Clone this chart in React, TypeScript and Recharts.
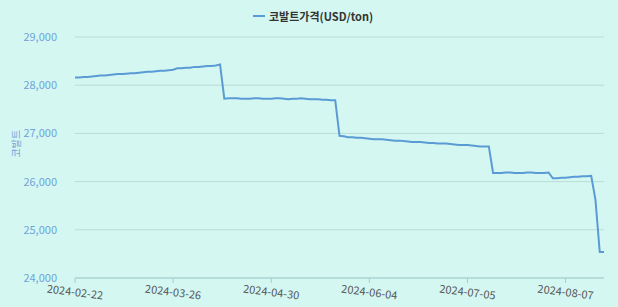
import { LineChart, Line, XAxis, YAxis, CartesianGrid } from 'recharts';

// LME business days, 2024-02-22 .. 2024-08-20
const dates = [
  '2024-02-22', '2024-02-23', '2024-02-26', '2024-02-27', '2024-02-28', '2024-02-29',
  '2024-03-01', '2024-03-04', '2024-03-05', '2024-03-06', '2024-03-07', '2024-03-08',
  '2024-03-11', '2024-03-12', '2024-03-13', '2024-03-14', '2024-03-15', '2024-03-18',
  '2024-03-19', '2024-03-20', '2024-03-21', '2024-03-22', '2024-03-25', '2024-03-26',
  '2024-03-27', '2024-03-28',
  '2024-04-02', '2024-04-03', '2024-04-04', '2024-04-05', '2024-04-08', '2024-04-09',
  '2024-04-10', '2024-04-11', '2024-04-12', '2024-04-15', '2024-04-16', '2024-04-17',
  '2024-04-18', '2024-04-19', '2024-04-22', '2024-04-23', '2024-04-24', '2024-04-25',
  '2024-04-26', '2024-04-29', '2024-04-30',
  '2024-05-01', '2024-05-02', '2024-05-03', '2024-05-07', '2024-05-08', '2024-05-09',
  '2024-05-10', '2024-05-13', '2024-05-14', '2024-05-15', '2024-05-16', '2024-05-17',
  '2024-05-20', '2024-05-21', '2024-05-22', '2024-05-23', '2024-05-24', '2024-05-28',
  '2024-05-29', '2024-05-30', '2024-05-31',
  '2024-06-03', '2024-06-04', '2024-06-05', '2024-06-06', '2024-06-07', '2024-06-10',
  '2024-06-11', '2024-06-12', '2024-06-13', '2024-06-14', '2024-06-17', '2024-06-18',
  '2024-06-19', '2024-06-20', '2024-06-21', '2024-06-24', '2024-06-25', '2024-06-26',
  '2024-06-27', '2024-06-28',
  '2024-07-01', '2024-07-02', '2024-07-03', '2024-07-04', '2024-07-05', '2024-07-08',
  '2024-07-09', '2024-07-10', '2024-07-11', '2024-07-12', '2024-07-15', '2024-07-16',
  '2024-07-17', '2024-07-18', '2024-07-19', '2024-07-22', '2024-07-23', '2024-07-24',
  '2024-07-25', '2024-07-26', '2024-07-29', '2024-07-30', '2024-07-31',
  '2024-08-01', '2024-08-02', '2024-08-05', '2024-08-06', '2024-08-07', '2024-08-08',
  '2024-08-09', '2024-08-12', '2024-08-13', '2024-08-14', '2024-08-15', '2024-08-16',
  '2024-08-19', '2024-08-20',
];

const cobaltPrice = [
  28160, 28160, 28170, 28170, 28180, 28190, 28200, 28200, 28210, 28220,
  28230, 28230, 28240, 28250, 28250, 28260, 28270, 28280, 28280, 28290,
  28300, 28300, 28310, 28320, 28350, 28350, 28360, 28360, 28380, 28380,
  28390, 28400, 28400, 28410, 28430,
  27720, 27730, 27730, 27730, 27720, 27720, 27720, 27730, 27730, 27720,
  27720, 27720, 27730, 27730, 27720, 27710, 27720, 27720, 27730, 27720,
  27710, 27710, 27710, 27700, 27700, 27690, 27690,
  26950, 26940, 26920, 26920, 26910, 26910, 26900, 26890, 26880, 26880,
  26880, 26870, 26860, 26850, 26850, 26840, 26830, 26820, 26820, 26820,
  26810, 26800, 26800, 26790, 26790, 26790, 26780, 26770, 26760, 26760,
  26760, 26750, 26740, 26730, 26730, 26730,
  26180, 26180, 26180, 26190, 26190, 26180, 26180, 26180, 26190, 26190,
  26180, 26180, 26180, 26190,
  26070, 26070, 26080, 26080, 26090, 26100, 26100, 26110, 26110, 26120,
  25620, 24540, 24540,
];

const yTicks = [24000, 25000, 26000, 27000, 28000, 29000];

const data = dates.map((d, i) => ({ date: d, price: cobaltPrice[i] }));

const font = "'Noto Sans CJK KR', 'Noto Sans', sans-serif";
const lineColor = '#5b9bd5';

const DateTick = (props: any) => {
  const { x, y, payload } = props;
  return (
    <text
      x={x}
      y={y + 11}
      textAnchor="middle"
      fill="#555"
      fontSize={11}
      fontFamily={font}
      transform={`rotate(7, ${x}, ${y + 7})`}
    >
      {payload.value}
    </text>
  );
};

const App = () => {
  return (
    <div style={{ position: 'absolute', left: 0, top: 0, width: 618, height: 307, background: '#d4f7f1' }}>
      <div
        style={{
          position: 'absolute', top: 8, left: 253, display: 'flex', alignItems: 'center',
          fontFamily: font, fontSize: 11, fontWeight: 'bold', color: '#333',
        }}
      >
        <span style={{ display: 'inline-block', width: 12, height: 2, background: lineColor, marginRight: 4 }} />
        코발트가격(USD/ton)
      </div>
      <LineChart width={618} height={307} data={data} margin={{ top: 37, right: 14, left: 0, bottom: 0 }}>
        <CartesianGrid vertical={false} stroke="#b8ddd6" />
        <XAxis
          dataKey="date"
          interval={22}
          height={29}
          tick={<DateTick />}
          axisLine={{ stroke: '#a4cfcf' }}
          tickLine={{ stroke: '#a4cfcf' }}
          tickSize={5}
        />
        <YAxis
          domain={[24000, 29000]}
          ticks={yTicks}
          width={75}
          axisLine={false}
          tickLine={false}
          tickMargin={12}
          tickFormatter={(v: number) => v.toLocaleString('en-US')}
          tick={{ fill: '#6fa3dc', fontSize: 11, fontFamily: font }}
          label={{ value: '코발트', angle: -90, position: 'insideLeft', offset: 16, fill: '#6fa3dc', fontSize: 10, fontFamily: font }}
        />
        <Line
          type="linear"
          dataKey="price"
          stroke={lineColor}
          strokeWidth={2}
          dot={false}
          isAnimationActive={false}
        />
      </LineChart>
    </div>
  );
};

export default App;
